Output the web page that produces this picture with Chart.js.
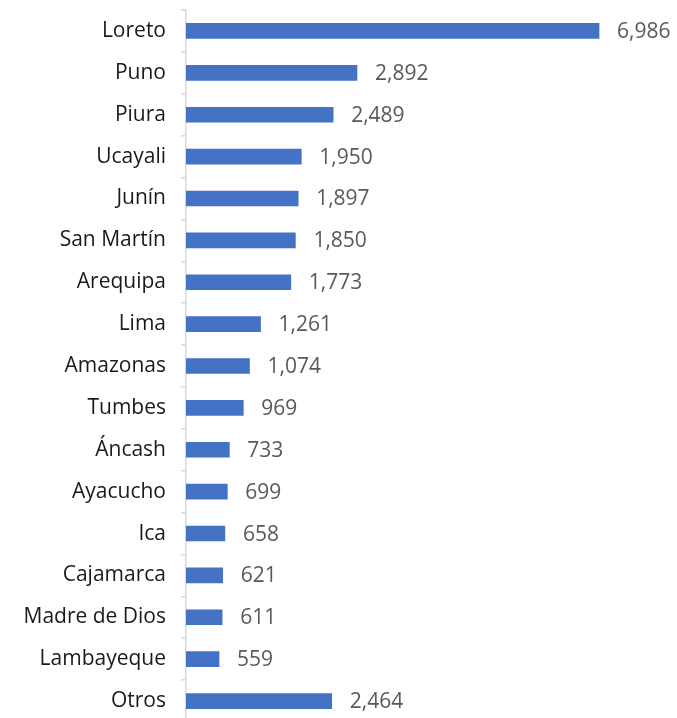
<!DOCTYPE html>
<html>
<head>
<meta charset="utf-8">
<script src="https://cdn.jsdelivr.net/npm/chart.js@4/dist/chart.umd.min.js"></script>
<style>
	html, body { margin: 0; padding: 0; background: #fff; overflow: hidden; }
	#wrap { position: relative; width: 677px; height: 722px; }
</style>
</head>
<body>
<div id="wrap"><canvas id="regionChart"></canvas></div>
<script>
const REGIONS = [
	'Loreto', 'Puno', 'Piura', 'Ucayali', 'Junín', 'San Martín', 'Arequipa',
	'Lima', 'Amazonas', 'Tumbes', 'Áncash', 'Ayacucho', 'Ica', 'Cajamarca',
	'Madre de Dios', 'Lambayeque', 'Otros',
];
const CASES = [
	6986, 2892, 2489, 1950, 1897, 1850, 1773,
	1261, 1074, 969, 733, 699, 658, 621,
	611, 559, 2464,
];

const FONT_FAMILY = '"Open Sans", "Liberation Sans", sans-serif';
const BAR_COLOR = '#4472C4';

// value labels to the right of each bar
const valueLabels = {
	id: 'valueLabels',
	afterDatasetsDraw(chart) {
		const ctx = chart.ctx;
		const meta = chart.getDatasetMeta(0);
		ctx.save();
		ctx.font = `21px ${FONT_FAMILY}`;
		ctx.fillStyle = '#595959';
		ctx.textAlign = 'left';
		ctx.textBaseline = 'middle';
		meta.data.forEach((bar, i) => {
			ctx.fillText(CASES[i].toLocaleString('en-US'), bar.x + 18, bar.y + 1);
		});
		ctx.restore();
	},
};

const ctx = document.querySelector('#regionChart').getContext('2d');
const chart = new Chart(ctx, {
	type: 'bar',
	data: {
		labels: REGIONS,
		datasets: [
			{
				data: CASES,
				backgroundColor: BAR_COLOR,
				borderWidth: 0,
				barThickness: 15,
			},
		],
	},
	options: {
		indexAxis: 'y',
		responsive: true,
		maintainAspectRatio: false,
		animation: false,
		layout: {
			padding: { top: 10, right: 18, bottom: 0, left: 0 },
		},
		scales: {
			x: {
				display: false,
				min: 0,
				max: 8000,
			},
			y: {
				afterFit: scale => {
					scale.width = 186;
					scale.paddingTop = 0;
					scale.paddingBottom = 0;
				},
				border: {
					display: true,
					color: '#D9D9D9',
					width: 1.5,
				},
				grid: {
					offset: true,
					drawOnChartArea: false,
					drawTicks: true,
					tickLength: 5,
					color: '#D9D9D9',
					lineWidth: 1.5,
				},
				ticks: {
					padding: 15,
					color: '#1a1a1a',
					font: { family: FONT_FAMILY, size: 21 },
				},
			},
		},
		plugins: {
			legend: { display: false },
			tooltip: { enabled: false },
			title: { display: false },
		},
	},
	plugins: [valueLabels],
});
</script>
</body>
</html>
